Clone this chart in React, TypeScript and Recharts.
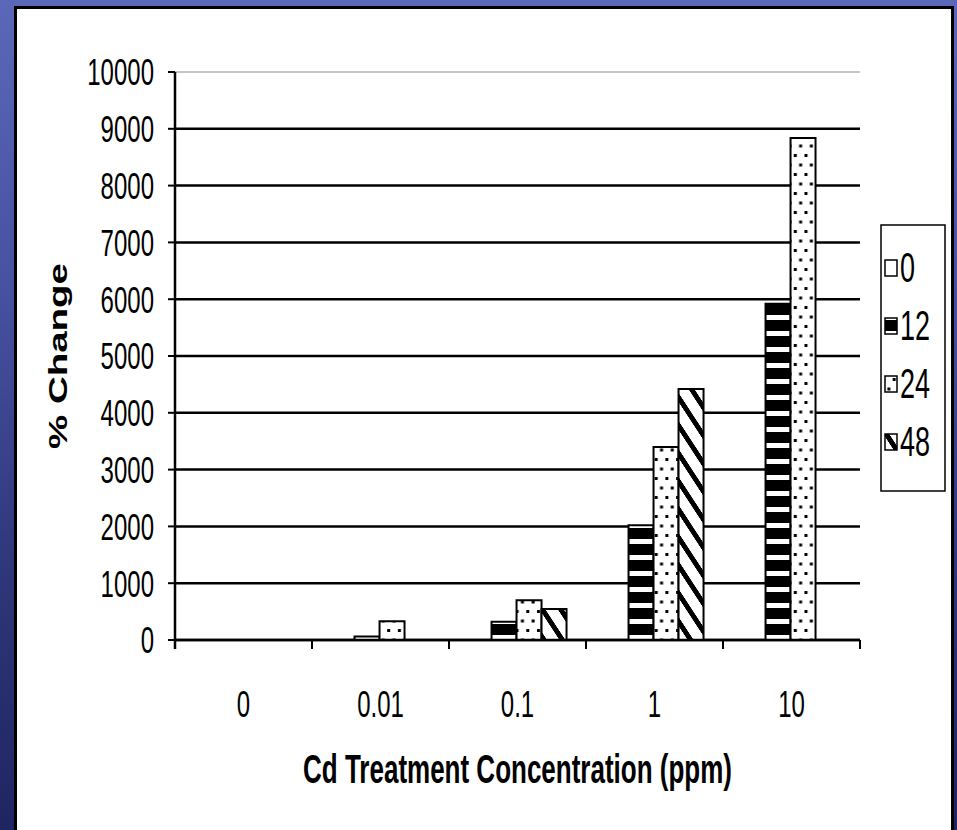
import React from "react";
import { BarChart, Bar, XAxis, YAxis, CartesianGrid } from "recharts";

// Cd treatment concentrations (ppm) and % change at each exposure time (h)
const concentrations = ["0", "0.01", "0.1", "1", "10"];
const change0h = [0, 0, 0, 0, 0];
const change12h = [0, 60, 320, 2020, 5920];
const change24h = [0, 330, 700, 3400, 8840];
const change48h = [0, 0, 545, 4420, 0];
const yTicks = [0, 1000, 2000, 3000, 4000, 5000, 6000, 7000, 8000, 9000, 10000];

const series = [
  { key: "h0", name: "0", values: change0h, fill: "#ffffff" },
  { key: "h12", name: "12", values: change12h, fill: "url(#p12)" },
  { key: "h24", name: "24", values: change24h, fill: "url(#p24)" },
  { key: "h48", name: "48", values: change48h, fill: "url(#p48)" },
];

const data = concentrations.map((c, i) => {
  const row: Record<string, string | number> = { conc: c };
  series.forEach((s) => (row[s.key] = s.values[i]));
  return row;
});

const FONT = "'Liberation Sans', Arial, sans-serif";
const K = 1.55; // the original slide is stretched vertically

function Stretch({ x, y, size, anchor = "start", bold = false, children }: any) {
  return (
    <g transform={`translate(${x},${y}) scale(1,${K})`}>
      <text x={0} y={0} textAnchor={anchor} fontSize={size} fontFamily={FONT} fontWeight={bold ? "bold" : "normal"} fill="#000">
        {children}
      </text>
    </g>
  );
}

function Patterns() {
  return (
    <defs>
      <pattern id="p12" patternUnits="userSpaceOnUse" width={8} height={16}>
        <rect width={8} height={16} fill="#fff" />
        <rect width={8} height={11} fill="#000" />
      </pattern>
      <pattern id="p24" patternUnits="userSpaceOnUse" width={10.7} height={19}>
        <rect width={10.7} height={19} fill="#fff" />
        <rect x={2} y={2} width={3} height={3} fill="#000" />
        <rect x={7.35} y={11.5} width={3} height={3} fill="#000" />
      </pattern>
      <pattern id="p48" patternUnits="userSpaceOnUse" width={10} height={28} patternTransform="skewY(56.8)">
        <rect width={10} height={28} fill="#fff" />
        <rect width={10} height={9} fill="#000" />
      </pattern>
    </defs>
  );
}

const gridLine = (p: any) => {
  const top = p.y != null ? Math.abs(p.y1 - p.y) < 1 : p.index === yTicks.length - 1;
  return (
    <line
      key={p.key}
      x1={p.x1}
      x2={p.x2}
      y1={p.y1}
      y2={p.y2}
      stroke={top ? "#c4c4c4" : "#000"}
      strokeWidth={top ? 2 : 2.5}
    />
  );
};

const XTick = (p: any) => {
  const { x, y, payload, index } = p;
  const half = payload.offset ?? 68.5;
  return (
    <g>
      <line x1={x + half} x2={x + half} y1={y} y2={y + 9} stroke="#000" strokeWidth={2} />
      {index === 0 && <line x1={x - half} x2={x - half} y1={y} y2={y + 9} stroke="#000" strokeWidth={2.5} />}
      <Stretch x={x} y={y + 77} size={24} anchor="middle">
        {payload.value}
      </Stretch>
    </g>
  );
};

const YTick = (p: any) => (
  <Stretch x={p.x} y={p.y + 13.3} size={24} anchor="end">
    {p.payload.value}
  </Stretch>
);

const YTitle = (p: any) => {
  const vb = p.viewBox;
  return (
    <g transform={`translate(${vb.x + 52},${vb.y + vb.height / 2}) scale(1,${1.54}) rotate(-90)`}>
      <text x={0} y={0} textAnchor="middle" fontSize={25} fontWeight="bold" fontFamily={FONT} fill="#000">
        % Change
      </text>
    </g>
  );
};

const XTitle = (p: any) => {
  const vb = p.viewBox;
  return (
    <Stretch x={vb.x + vb.width / 2} y={vb.y + 143} size={26} anchor="middle" bold>
      Cd Treatment Concentration (ppm)
    </Stretch>
  );
};

function LegendBox() {
  return (
    <svg width={68} height={270} style={{ position: "absolute", left: 880, top: 224 }}>
      <Patterns />
      <rect x={1} y={1} width={64} height={266} fill="#fff" stroke="#000" strokeWidth={1.5} />
      {series.map((s, i) => {
        const cy = 44 + i * 58;
        return (
          <g key={s.key}>
            <rect x={5} y={cy - 8} width={12} height={16} fill={s.fill} stroke="#000" strokeWidth={1.5} />
            <Stretch x={20} y={cy + 14} size={27}>
              {s.name}
            </Stretch>
          </g>
        );
      })}
    </svg>
  );
}

export default function App() {
  return (
    <div
      style={{
        position: "fixed",
        left: 0,
        top: 0,
        width: 957,
        height: 830,
        overflow: "hidden",
        background: "linear-gradient(to bottom, #5b67b8 0%, #4651a0 35%, #2e3679 70%, #1f2560 100%)",
      }}
    >
      <div
        style={{
          position: "absolute",
          left: 14,
          top: 6,
          width: 940,
          height: 900,
          background: "#fff",
          border: "3px solid #000",
          boxSizing: "border-box",
        }}
      />
      <div style={{ position: "absolute", left: 0, top: 0 }}>
        <BarChart
          width={957}
          height={830}
          data={data}
          margin={{ top: 72, right: 97, bottom: 130, left: 15 }}
          barCategoryGap="12.8%"
          barGap={0}
        >
          <Patterns />
          <CartesianGrid vertical={false} horizontal={gridLine} />
          <XAxis
            dataKey="conc"
            interval={0}
            height={60}
            axisLine={{ stroke: "#000", strokeWidth: 2.5 }}
            tickLine={false}
            tickSize={0}
            tickMargin={0}
            tick={XTick}
            label={XTitle}
          />
          <YAxis
            domain={[0, 10000]}
            ticks={yTicks}
            interval={0}
            width={160}
            axisLine={{ stroke: "#000", strokeWidth: 2.5 }}
            tickLine={{ stroke: "#000", strokeWidth: 2 }}
            tickSize={7}
            tickMargin={14}
            tick={YTick}
            label={YTitle}
          />
          {series.map((s) => (
            <Bar
              key={s.key}
              dataKey={s.key}
              name={s.name}
              fill={s.fill}
              stroke="#000"
              strokeWidth={2}
              isAnimationActive={false}
            />
          ))}
        </BarChart>
      </div>
      <LegendBox />
    </div>
  );
}
